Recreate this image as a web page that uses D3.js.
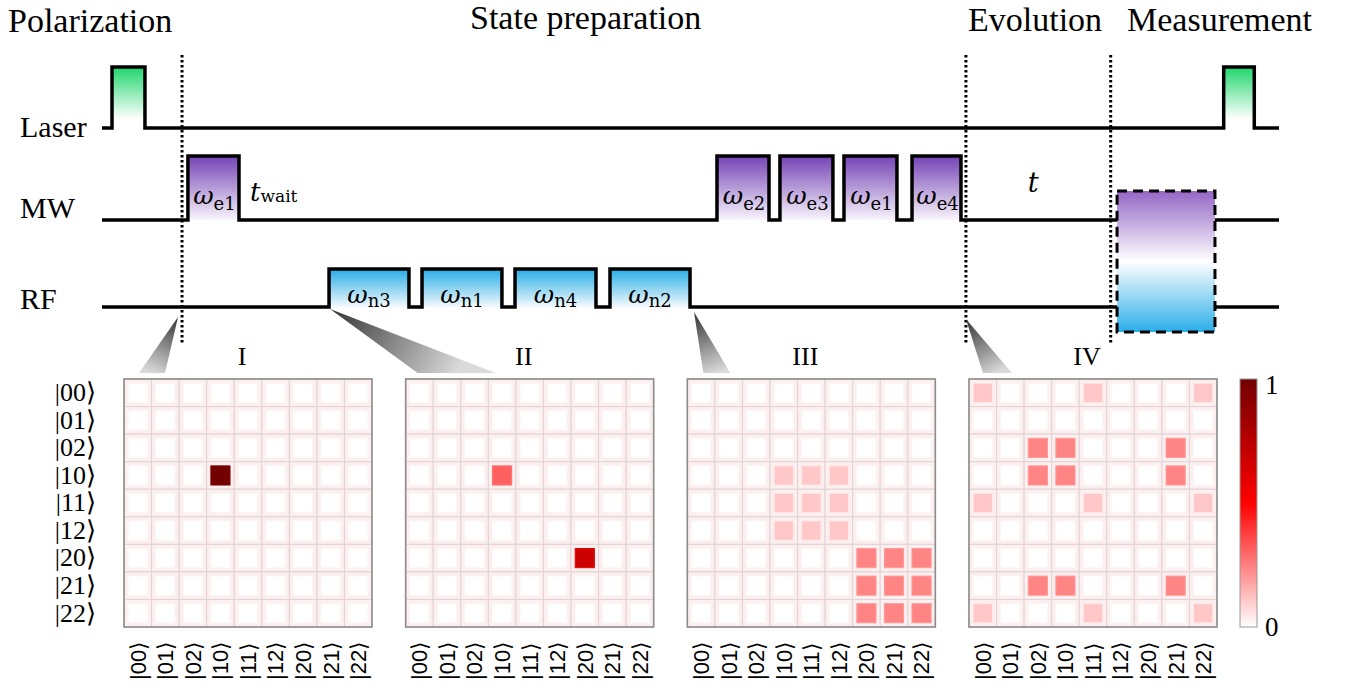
<!DOCTYPE html>
<html>
<head>
<meta charset="utf-8">
<script src="https://cdn.jsdelivr.net/npm/d3@7"></script>
<style>
  body { margin: 0; background: #fff; }
  svg { display: block; }
</style>
</head>
<body>
<svg width="1354" height="690"></svg>
<script>
// ---- sequence data (time in arbitrary units, 0..100) ----
const phaseNames = ['Polarization', 'State preparation', 'Evolution', 'Measurement'];
const phaseBounds = [6.8, 73.4, 85.7];
const channelNames = ['Laser', 'MW', 'RF'];
const laserPulses = [[0.85, 3.65], [95.3, 97.9]];
const mwPulses = [[7.3, 11.64], [52.25, 56.67], [57.6, 62.1], [63.04, 67.54], [68.82, 72.98]];
const mwLabels = ['e1', 'e2', 'e3', 'e1', 'e4'];
const rfPulses = [[19.29, 26.08], [27.19, 33.98], [35.09, 41.97], [43.16, 49.96]];
const rfLabels = ['n3', 'n1', 'n4', 'n2'];
const readoutWindow = [86.24, 94.56];
const snapshotTimes = [6.8, 19.29, 49.96, 73.4];

// ---- density matrices (nonzero entries: row, col, value) ----
const basis = ['00', '01', '02', '10', '11', '12', '20', '21', '22'];
const panelNames = ['I', 'II', 'III', 'IV'];
const rhoI = [['10', '10', 1.0]];
const rhoII = [['10', '10', 0.31], ['20', '20', 0.68]];
const rhoIII = [
	['10', '10', 0.11], ['10', '11', 0.11], ['10', '12', 0.11],
	['11', '10', 0.11], ['11', '11', 0.11], ['11', '12', 0.11],
	['12', '10', 0.11], ['12', '11', 0.11], ['12', '12', 0.11],
	['20', '20', 0.24], ['20', '21', 0.24], ['20', '22', 0.24],
	['21', '20', 0.24], ['21', '21', 0.24], ['21', '22', 0.24],
	['22', '20', 0.24], ['22', '21', 0.24], ['22', '22', 0.24],
];
const rhoIV = [
	['00', '00', 0.11], ['00', '11', 0.11], ['00', '22', 0.11],
	['11', '00', 0.11], ['11', '11', 0.11], ['11', '22', 0.11],
	['22', '00', 0.11], ['22', '11', 0.11], ['22', '22', 0.11],
	['02', '02', 0.24], ['02', '10', 0.24], ['02', '21', 0.24],
	['10', '02', 0.24], ['10', '10', 0.24], ['10', '21', 0.24],
	['21', '02', 0.24], ['21', '10', 0.24], ['21', '21', 0.24],
];
const colorDomain = [0, 0.5, 1];
const colorRange = ['#ffffff', '#ff0000', '#720000'];

const serif = '"Liberation Serif", "Times New Roman", serif';
const mathFont = '"DejaVu Serif", serif';
const lineW = 3.5;

const svg = d3.select('svg');
const defs = svg.append('defs');

const addGradient = (id, stops, x1 = 0, y1 = 0, x2 = 0, y2 = 1, units) => {
	const g = defs.append('linearGradient')
		.attr('id', id)
		.attr('x1', x1).attr('y1', y1)
		.attr('x2', x2).attr('y2', y2);
	if (units) g.attr('gradientUnits', units);
	stops.forEach(([o, c]) => g.append('stop').attr('offset', o).attr('stop-color', c));
};
addGradient('gLaser', [[0, '#1fd66c'], [0.85, '#ffffff']]);
addGradient('gMW', [[0, '#7443b4'], [1, '#f8f4fc']]);
addGradient('gRF', [[0, '#26ace6'], [1, '#f4fafd']]);
addGradient('gMeas', [[0, '#9466c6'], [0.5, '#ffffff'], [1, '#2aaee8']]);

const x = d3.scaleLinear().domain([0, 100]).range([102, 1279]);
const chanY = d3.scaleOrdinal().domain(channelNames).range([128, 220, 307]);
const pulseTop = { Laser: 67, MW: 156, RF: 269 };

// ---- phase titles ----
const titlePos = [[8, 32], [470, 29], [968, 31], [1127, 31]];
svg.append('g').selectAll('text')
	.data(phaseNames)
	.enter()
		.append('text')
		.attr('x', (d, i) => titlePos[i][0])
		.attr('y', (d, i) => titlePos[i][1])
		.attr('font-family', serif)
		.attr('font-size', 34)
		.text(d => d);

// ---- channel labels ----
svg.append('g').selectAll('text')
	.data(channelNames)
	.enter()
		.append('text')
		.attr('x', 20)
		.attr('y', d => chanY(d) + [9, -2, 2][channelNames.indexOf(d)])
		.attr('font-family', serif)
		.attr('font-size', 30)
		.text(d => d);

// ---- pulses ----
const pulseSets = [
	['Laser', laserPulses, 'gLaser'],
	['MW', mwPulses, 'gMW'],
	['RF', rfPulses, 'gRF'],
];

const traceSegs = (name, pulses, breakAt) => {
	const y0 = chanY(name);
	const top = pulseTop[name];
	const p = d3.path();
	p.moveTo(x(0), y0);
	pulses.forEach(([a, b]) => {
		p.lineTo(x(a), y0);
		p.lineTo(x(a), top);
		p.lineTo(x(b), top);
		p.lineTo(x(b), y0);
	});
	if (breakAt) {
		p.lineTo(x(breakAt[0]), y0);
		p.moveTo(x(breakAt[1]), y0);
	}
	p.lineTo(x(100), y0);
	return p.toString();
};

pulseSets.forEach(([name, pulses, grad]) => {
	svg.append('g').selectAll('rect')
		.data(pulses)
		.enter()
			.append('rect')
			.attr('x', d => x(d[0]))
			.attr('y', pulseTop[name])
			.attr('width', d => x(d[1]) - x(d[0]))
			.attr('height', chanY(name) - pulseTop[name])
			.attr('fill', `url(#${grad})`);
	svg.append('path')
		.attr('d', traceSegs(name, pulses, name === 'Laser' ? null : readoutWindow))
		.attr('fill', 'none')
		.attr('stroke', '#000')
		.attr('stroke-width', lineW)
		.attr('stroke-linejoin', 'miter');
});

// pulse labels
const omegaLabel = (g, cx, baseline, sub, dySub) => {
	const t = g.append('text')
		.attr('x', cx)
		.attr('y', baseline)
		.attr('text-anchor', 'middle')
		.attr('font-family', mathFont);
	t.append('tspan').attr('font-style', 'italic').attr('font-size', 25).text('ω');
	t.append('tspan').attr('font-size', 18).attr('dy', dySub).text(sub);
};
const labelG = svg.append('g');
mwPulses.forEach((d, i) => omegaLabel(labelG, (x(d[0]) + x(d[1])) / 2 + 1, 204, mwLabels[i], 6));
rfPulses.forEach((d, i) => omegaLabel(labelG, (x(d[0]) + x(d[1])) / 2, 303, rfLabels[i], 4));

// t_wait and t
const tw = labelG.append('text')
	.attr('x', x(mwPulses[0][1]) + 11)
	.attr('y', 201)
	.attr('font-family', mathFont);
tw.append('tspan').attr('font-style', 'italic').attr('font-size', 26).text('t');
tw.append('tspan').attr('font-size', 17).attr('dy', 1).text('wait');
labelG.append('text')
	.attr('x', (x(phaseBounds[1]) + x(phaseBounds[2])) / 2 - 5)
	.attr('y', 192)
	.attr('text-anchor', 'middle')
	.attr('font-family', mathFont)
	.attr('font-style', 'italic')
	.attr('font-size', 27)
	.text('t');

// readout box
svg.append('rect')
	.attr('x', x(readoutWindow[0]))
	.attr('y', 191)
	.attr('width', x(readoutWindow[1]) - x(readoutWindow[0]))
	.attr('height', 141)
	.attr('fill', 'url(#gMeas)')
	.attr('stroke', '#000')
	.attr('stroke-width', 3)
	.attr('stroke-dasharray', '10,6');

// phase boundaries
svg.append('g').selectAll('line')
	.data(phaseBounds)
	.enter()
		.append('line')
		.attr('x1', d => x(d))
		.attr('x2', d => x(d))
		.attr('y1', 55)
		.attr('y2', 344)
		.attr('stroke', '#000')
		.attr('stroke-width', 3)
		.attr('stroke-dasharray', '2.5,2.5');

// ---- density matrix panels ----
const panelSize = 248;
const panelLeft = d3.scaleLinear().domain([0, 3]).range([124, 969]);
const panelTop = 379;
const band = d3.scaleBand().domain(basis).range([0, panelSize]);
const color = d3.scaleLinear().domain(colorDomain).range(colorRange);
const rhos = [rhoI, rhoII, rhoIII, rhoIV];

// funnels from time points down to panels
const funnelApexY = [317, 309, 312, 319];
const funnelApexDx = [-4, 1, 4, 0];
const funnelBase = [[15, 41], [12, 90], [16, 43], [14, 43]];
snapshotTimes.forEach((t, i) => {
	const ax = x(t) + funnelApexDx[i];
	const ay = funnelApexY[i];
	const bx0 = panelLeft(i) + funnelBase[i][0];
	const bx1 = panelLeft(i) + funnelBase[i][1];
	const by = panelTop - 6;
	addGradient(`gF${i}`, [[0, '#333333'], [1, '#dadada']], ax, ay, (bx0 + bx1) / 2, by, 'userSpaceOnUse');
	svg.append('path')
		.attr('d', `M${ax},${ay}L${bx1},${by}L${bx0},${by}Z`)
		.attr('fill', `url(#gF${i})`);
});

rhos.forEach((rho, i) => {
	const g = svg.append('g')
		.attr('transform', `translate(${panelLeft(i)},${panelTop})`);
	const lookup = new Map(rho.map(([r, c, v]) => [r + c, v]));
	const cells = [];
	basis.forEach(r => basis.forEach(c => cells.push({ r, c, v: lookup.get(r + c) || 0 })));

	g.selectAll('rect.cell')
		.data(cells)
		.enter()
			.append('rect')
			.attr('class', 'cell')
			.attr('x', d => band(d.c))
			.attr('y', d => band(d.r))
			.attr('width', band.bandwidth())
			.attr('height', band.bandwidth())
			.attr('fill', '#fcefef')
			.attr('stroke', '#e2d2d3')
			.attr('stroke-width', 1);

	const inset = 4.2;
	g.selectAll('rect.val')
		.data(cells)
		.enter()
			.append('rect')
			.attr('class', 'val')
			.attr('x', d => band(d.c) + inset)
			.attr('y', d => band(d.r) + inset)
			.attr('width', band.bandwidth() - 2 * inset)
			.attr('height', band.bandwidth() - 2 * inset)
			.attr('fill', d => color(d.v))
			.attr('stroke', d => d.v > 0 ? d3.color(color(d.v)).brighter(0.4) : '#fdf6f6')
			.attr('stroke-width', 1);

	g.append('rect')
		.attr('width', panelSize)
		.attr('height', panelSize)
		.attr('fill', 'none')
		.attr('stroke', '#8c8c8c')
		.attr('stroke-width', 1.6);

	g.append('text')
		.attr('x', panelSize / 2 - 6)
		.attr('y', -14)
		.attr('text-anchor', 'middle')
		.attr('font-family', serif)
		.attr('font-size', 26)
		.text(panelNames[i]);

	// bottom kets
	const bottomAxis = g.append('g')
		.attr('transform', `translate(0,${panelSize})`)
		.call(d3.axisBottom(band).tickSize(0).tickFormat(d => `|${d}⟩`));
	bottomAxis.select('.domain').remove();
	bottomAxis.selectAll('text')
		.attr('transform', 'rotate(-90)')
		.attr('x', -53)
		.attr('y', 0)
		.attr('dy', '0.36em')
		.attr('text-anchor', 'start')
		.attr('font-family', '"Liberation Sans", Arial, sans-serif')
		.attr('font-size', 22)
		.attr('fill', '#000');

	if (i === 0) {
		const leftAxis = g.append('g')
			.call(d3.axisLeft(band).tickSize(0).tickPadding(28).tickFormat(d => `|${d}⟩`));
		leftAxis.select('.domain').remove();
		leftAxis.selectAll('text')
			.attr('font-family', serif)
			.attr('font-size', 26)
			.attr('fill', '#000');
	}
});

// ---- colorbar ----
const cbX = 1240;
const cbW = 17;
const cbScale = d3.scaleLinear().domain([0, 1]).range([panelTop + panelSize, panelTop]);
addGradient('gCB', d3.range(0, 1.01, 0.1).map(v => [v, color(1 - v)]));
svg.append('rect')
	.attr('x', cbX)
	.attr('y', panelTop)
	.attr('width', cbW)
	.attr('height', panelSize)
	.attr('fill', 'url(#gCB)')
	.attr('stroke', '#999')
	.attr('stroke-width', 1);
const cbAxis = svg.append('g')
	.attr('transform', `translate(${cbX + cbW},0)`)
	.call(d3.axisRight(cbScale).tickValues([0, 1]).tickSize(0).tickPadding(8).tickFormat(d3.format('d')));
cbAxis.select('.domain').remove();
cbAxis.selectAll('text')
	.attr('font-family', serif)
	.attr('font-size', 27)
	.attr('fill', '#000')
	.attr('dy', (d) => d === 1 ? '0.55em' : '0.3em');
</script>
</body>
</html>
